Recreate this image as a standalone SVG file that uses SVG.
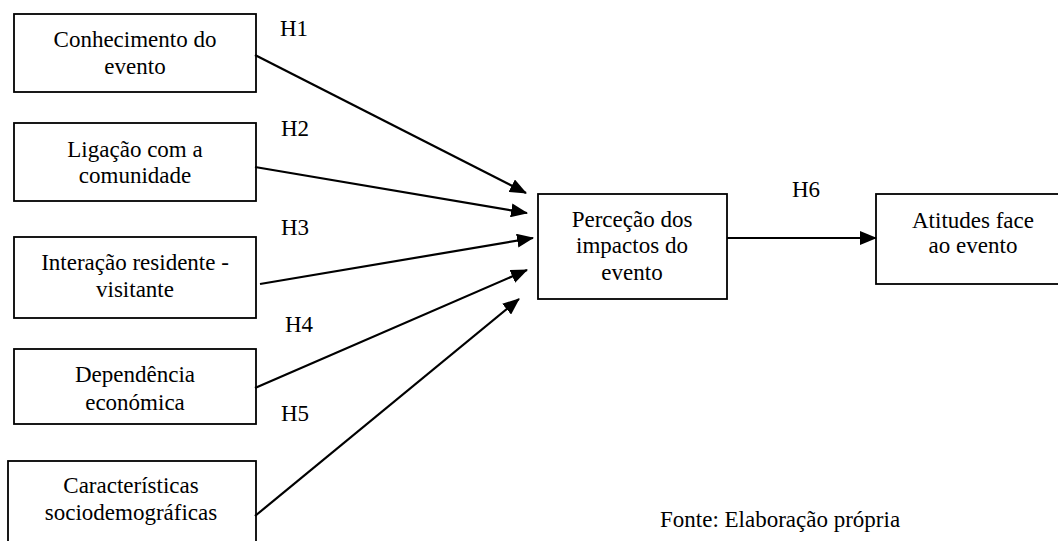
<svg xmlns="http://www.w3.org/2000/svg" width="1058" height="541" viewBox="0 0 1058 541">
<style>
  .box { fill: #ffffff; stroke: #000000; stroke-width: 1.8; }
  .t { font-family: "Liberation Serif", "Times New Roman", serif; font-size: 23px; fill: #000000; text-anchor: middle; }
  .h { font-family: "Liberation Serif", "Times New Roman", serif; font-size: 23px; fill: #000000; }
  .c { stroke: #000000; stroke-width: 2.2; fill: none; marker-end: url(#arr); }
</style>
<defs>
  <marker id="arr" markerUnits="userSpaceOnUse" markerWidth="17" markerHeight="14" refX="16" refY="7" orient="auto">
    <path d="M0,0 L17,7 L0,14 z" fill="#000000"/>
  </marker>
</defs>
<rect width="1058" height="541" fill="#ffffff"/>

<g id="n1">
  <rect class="box" x="14" y="14" width="242" height="78"/>
  <text class="t" x="135" y="47">Conhecimento do</text>
  <text class="t" x="135" y="74">evento</text>
</g>
<g id="n2">
  <rect class="box" x="14" y="123" width="242" height="78"/>
  <text class="t" x="135" y="157">Ligação com a</text>
  <text class="t" x="135" y="183">comunidade</text>
</g>
<g id="n3">
  <rect class="box" x="14" y="237" width="242" height="81"/>
  <text class="t" x="135" y="270">Interação residente -</text>
  <text class="t" x="135" y="297">visitante</text>
</g>
<g id="n4">
  <rect class="box" x="14" y="349" width="242" height="75"/>
  <text class="t" x="135" y="382">Dependência</text>
  <text class="t" x="135" y="410">económica</text>
</g>
<g id="n5">
  <rect class="box" x="8" y="461" width="248" height="90"/>
  <text class="t" x="131" y="493">Características</text>
  <text class="t" x="131" y="520">sociodemográficas</text>
</g>
<g id="n6">
  <rect class="box" x="538" y="194" width="189" height="105"/>
  <text class="t" x="632" y="227">Perceção dos</text>
  <text class="t" x="632" y="253">impactos do</text>
  <text class="t" x="632" y="280">evento</text>
</g>
<g id="n7">
  <rect class="box" x="876" y="194" width="194" height="90"/>
  <text class="t" x="973" y="228">Atitudes face</text>
  <text class="t" x="973" y="253">ao evento</text>
</g>

<g id="connectors">
  <line class="c" x1="255" y1="55" x2="526" y2="193"/>
  <line class="c" x1="255" y1="167" x2="527" y2="213"/>
  <line class="c" x1="260" y1="284" x2="533" y2="238"/>
  <line class="c" x1="255" y1="388" x2="527" y2="270"/>
  <line class="c" x1="255" y1="516" x2="519" y2="299"/>
  <line class="c" x1="727" y1="238" x2="876" y2="238"/>
</g>

<g id="labels">
  <text class="h" x="280" y="36">H1</text>
  <text class="h" x="281" y="136">H2</text>
  <text class="h" x="281" y="235">H3</text>
  <text class="h" x="285" y="332">H4</text>
  <text class="h" x="281" y="421">H5</text>
  <text class="h" x="792" y="197">H6</text>
  <text class="h" x="660" y="527">Fonte: Elaboração própria</text>
</g>
</svg>
